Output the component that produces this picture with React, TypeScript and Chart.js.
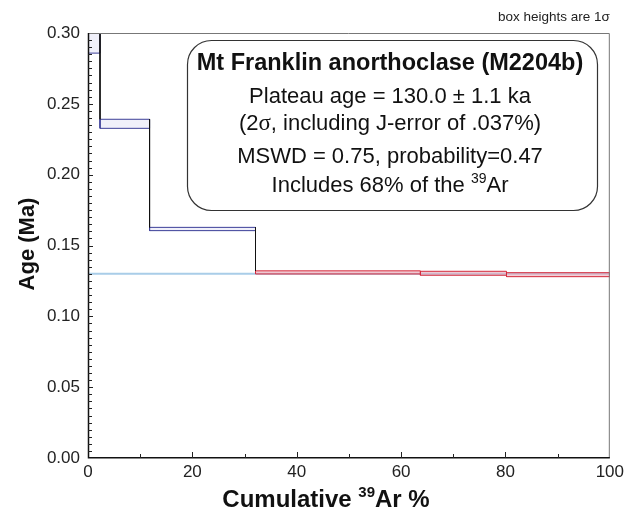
import React, { useEffect, useRef } from "react";
import { Chart, registerables } from "chart.js";

Chart.register(...registerables);

// ---- data ----
const stepEdges = [0, 2.3, 11.8, 32.1, 63.7, 80.2, 100];
const ageLow = [0.2858, 0.2327, 0.1605, 0.1299, 0.129, 0.128];
const ageHigh = [0.315, 0.2391, 0.1628, 0.1321, 0.1318, 0.1308];
const inPlateau = [false, false, false, true, true, true];
const plateauAge = 0.13;
const xTickValues = [0, 20, 40, 60, 80, 100];
const yTickValues = [0, 0.05, 0.1, 0.15, 0.2, 0.25, 0.3];

const infoTitle = "Mt Franklin anorthoclase (M2204b)";
const infoLines = [
  "Plateau age = 130.0 ± 1.1 ka",
  "(2σ, including J-error of .037%)",
  "MSWD = 0.75, probability=0.47",
];
const FONT = "'Liberation Sans', Arial, sans-serif";

type Run = { t: string; font: string; dy?: number };

function drawRuns(ctx: CanvasRenderingContext2D, runs: Run[], cx: number, y: number) {
  let total = 0;
  for (const r of runs) {
    ctx.font = r.font;
    total += ctx.measureText(r.t).width;
  }
  let x = cx - total / 2;
  ctx.textAlign = "left";
  for (const r of runs) {
    ctx.font = r.font;
    ctx.fillText(r.t, x, y + (r.dy || 0));
    x += ctx.measureText(r.t).width;
  }
}

function roundRect(ctx: CanvasRenderingContext2D, x: number, y: number, w: number, h: number, r: number) {
  ctx.beginPath();
  ctx.moveTo(x + r, y);
  ctx.lineTo(x + w - r, y);
  ctx.arcTo(x + w, y, x + w, y + r, r);
  ctx.lineTo(x + w, y + h - r);
  ctx.arcTo(x + w, y + h, x + w - r, y + h, r);
  ctx.lineTo(x + r, y + h);
  ctx.arcTo(x, y + h, x, y + h - r, r);
  ctx.lineTo(x, y + r);
  ctx.arcTo(x, y, x + r, y, r);
  ctx.closePath();
}

const decorPlugin = {
  id: "decor",
  afterDatasetsDraw(chart: any) {
    const ctx: CanvasRenderingContext2D = chart.ctx;
    const xs = chart.scales.x;
    const ys = chart.scales.y;
    const { left, right, top, bottom } = chart.chartArea;
    ctx.save();

    // frame
    ctx.lineWidth = 1;
    ctx.strokeStyle = "#777";
    ctx.beginPath();
    ctx.moveTo(left, top + 0.5);
    ctx.lineTo(right - 0.5, top + 0.5);
    ctx.lineTo(right - 0.5, bottom);
    ctx.stroke();
    ctx.strokeStyle = "#111";
    ctx.lineWidth = 1.5;
    ctx.beginPath();
    ctx.moveTo(left + 0.5, top);
    ctx.lineTo(left + 0.5, bottom - 0.25);
    ctx.lineTo(right, bottom - 0.25);
    ctx.stroke();

    // inward ticks
    ctx.lineWidth = 1;
    ctx.strokeStyle = "#222";
    ctx.beginPath();
    for (let i = 1; i < 60; i++) {
      const v = i * 0.005;
      const py = Math.round(ys.getPixelForValue(v)) + 0.5;
      const len = i % 10 === 0 ? 5 : 4;
      ctx.moveTo(left, py);
      ctx.lineTo(left + len, py);
    }
    for (let i = 1; i < 10; i++) {
      const px = Math.round(xs.getPixelForValue(i * 10)) + 0.5;
      const len = i % 2 === 0 ? 6 : 4;
      ctx.moveTo(px, bottom);
      ctx.lineTo(px, bottom - len);
    }
    ctx.stroke();

    // info box
    const bx = 187, by = 40, bw = 410, bh = 170;
    roundRect(ctx, bx + 0.5, by + 0.5, bw, bh, 24);
    ctx.fillStyle = "#fff";
    ctx.fill();
    ctx.strokeStyle = "#333";
    ctx.lineWidth = 1.2;
    ctx.stroke();

    const cx = bx + bw / 2 - 2;
    const F = `22px ${FONT}`;
    ctx.fillStyle = "#111";
    ctx.textBaseline = "middle";
    ctx.textAlign = "center";
    ctx.font = `bold 23.5px ${FONT}`;
    ctx.fillText(infoTitle, cx, 64);
    ctx.font = F;
    ctx.fillText(infoLines[0], cx, 97);
    const parts = infoLines[1].split("σ");
    drawRuns(
      ctx,
      [
        { t: parts[0], font: F },
        { t: "σ", font: `23px 'Liberation Serif', serif` },
        { t: parts[1], font: F },
      ],
      cx,
      124
    );
    ctx.font = F;
    ctx.textAlign = "center";
    ctx.fillText(infoLines[2], cx, 157);
    drawRuns(
      ctx,
      [
        { t: "Includes 68% of the ", font: F },
        { t: "39", font: `14px ${FONT}`, dy: -7 },
        { t: "Ar", font: F },
      ],
      cx,
      186
    );

    // top-right note
    ctx.fillStyle = "#222";
    ctx.font = `13.5px ${FONT}`;
    ctx.textAlign = "right";
    ctx.fillText("box heights are 1σ", right, 17);

    // axis titles
    ctx.fillStyle = "#111";
    drawRuns(
      ctx,
      [
        { t: "Cumulative ", font: `bold 24px ${FONT}` },
        { t: "39", font: `bold 15px ${FONT}`, dy: -7 },
        { t: "Ar %", font: `bold 24px ${FONT}` },
      ],
      326,
      500
    );
    ctx.translate(28, 244);
    ctx.rotate(-Math.PI / 2);
    ctx.font = `bold 22px ${FONT}`;
    ctx.textAlign = "center";
    ctx.fillText("Age (Ma)", 0, 0);
    ctx.restore();
  },
};

export default function App() {
  const ref = useRef<HTMLCanvasElement | null>(null);
  useEffect(() => {
    document.body.style.margin = "0";
    if (!ref.current) return;

    const datasets: any[] = [];
    // plateau line
    datasets.push({
      data: [
        { x: stepEdges[0], y: plateauAge },
        { x: stepEdges[stepEdges.length - 1], y: plateauAge },
      ],
      showLine: true,
      borderColor: "#a9cde8",
      borderWidth: 2,
      pointRadius: 0,
      order: 10,
    });
    // step boxes
    for (let i = 0; i < ageLow.length; i++) {
      const x0 = stepEdges[i];
      const x1 = stepEdges[i + 1];
      const red = inPlateau[i];
      datasets.push({
        data: [
          { x: x0, y: ageLow[i] },
          { x: x1, y: ageLow[i] },
          { x: x1, y: ageHigh[i] },
          { x: x0, y: ageHigh[i] },
          { x: x0, y: ageLow[i] },
        ],
        showLine: true,
        fill: "shape",
        borderColor: red ? "#d42a3c" : "#3c3f98",
        backgroundColor: red ? "rgba(240,165,178,0.55)" : "rgba(195,196,235,0.25)",
        borderWidth: 1,
        pointRadius: 0,
        tension: 0,
        order: 5,
      });
    }
    // black connectors between non-plateau steps
    for (let i = 0; i < ageLow.length - 1; i++) {
      if (inPlateau[i]) continue;
      datasets.push({
        data: [
          { x: stepEdges[i + 1], y: ageHigh[i] },
          { x: stepEdges[i + 1], y: ageHigh[i + 1] },
        ],
        showLine: true,
        borderColor: "#111",
        borderWidth: 1,
        pointRadius: 0,
        order: 1,
      });
    }

    const chart = new Chart(ref.current, {
      type: "scatter",
      data: { datasets },
      options: {
        responsive: false,
        animation: false,
        layout: { padding: { top: 33, right: 16, left: 0, bottom: 0 } },
        plugins: { legend: { display: false }, tooltip: { enabled: false } },
        scales: {
          x: {
            type: "linear",
            min: 0,
            max: 100,
            afterFit: (s: any) => {
              s.height = 65;
            },
            afterBuildTicks: (s: any) => {
              s.ticks = xTickValues.map((v) => ({ value: v }));
            },
            ticks: {
              font: { family: FONT, size: 17 },
              color: "#222",
              padding: 4,
              maxRotation: 0,
            },
            grid: { display: false, drawTicks: false },
            border: { display: false },
          },
          y: {
            type: "linear",
            min: 0,
            max: 0.3,
            afterFit: (s: any) => {
              s.width = 88;
            },
            afterBuildTicks: (s: any) => {
              s.ticks = yTickValues.map((v) => ({ value: v }));
            },
            ticks: {
              font: { family: FONT, size: 17 },
              color: "#222",
              padding: 8,
              callback: (v: any) => Number(v).toFixed(2),
            },
            grid: { display: false, drawTicks: false },
            border: { display: false },
          },
        },
      },
      plugins: [decorPlugin],
    });
    return () => chart.destroy();
  }, []);

  return <canvas ref={ref} width={628} height={523} style={{ display: "block" }} />;
}
